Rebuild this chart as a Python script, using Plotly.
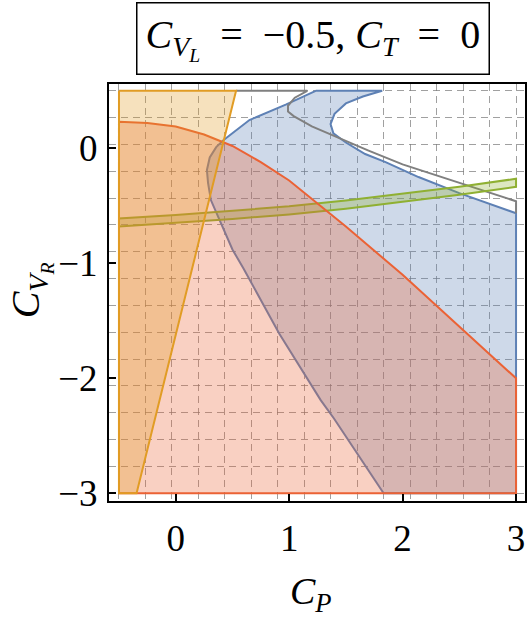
import plotly.graph_objects as go

# ---------------- data ----------------
x_tick_vals = [0, 1, 2, 3]
y_tick_vals = [-3, -2, -1, 0]
x_tick_text = ["0", "1", "2", "3"]
y_tick_text = ["\u22123", "\u22122", "\u22121", "0"]

# orange region: left of a straight boundary
orange_edge_x = [-0.345, 0.532]
orange_edge_y = [-3.0, 0.5]

# red region: below this boundary
red_curve_x = [-0.5, -0.25, 0.0, 0.25, 0.5, 0.75, 1.0, 1.25, 1.5, 2.0, 2.5, 3.0]
red_curve_y = [0.23, 0.22, 0.19, 0.12, 0.02, -0.12, -0.28, -0.48, -0.68, -1.1, -1.55, -2.0]

# blue region: left boundary (top -> bottom)
blue_left_x = [1.234, 0.97, 0.65, 0.42, 0.357, 0.30, 0.275, 0.285, 0.31, 0.41, 0.50, 0.60, 0.912, 1.278, 1.395, 1.833]
blue_left_y = [0.5, 0.38, 0.246, 0.07, 0.01, -0.08, -0.19, -0.30, -0.45, -0.68, -0.88, -1.05, -1.61, -2.19, -2.35, -3.0]
# blue region: inner (right) boundary (top -> right edge)
blue_inner_x = [1.82, 1.65, 1.50, 1.40, 1.365, 1.39, 1.50, 1.67, 1.85, 2.14, 2.5, 3.0]
blue_inner_y = [0.5, 0.45, 0.39, 0.30, 0.21, 0.13, 0.05, -0.05, -0.12, -0.25, -0.39, -0.565]

# gray boundary
gray_x = [0.532, 1.16, 1.05, 0.99, 0.99, 1.04, 1.2, 1.4, 1.7, 2.0, 2.5, 3.0, 3.0]
gray_y = [0.5, 0.5, 0.44, 0.37, 0.32, 0.28, 0.19, 0.105, -0.02, -0.14, -0.30, -0.46, -0.565]

# green band
green_x = [-0.5, 0.0, 0.5, 1.0, 1.5, 2.0, 2.5, 3.0]
green_lower = [-0.68, -0.65, -0.615, -0.575, -0.525, -0.465, -0.405, -0.335]
green_upper = [-0.61, -0.58, -0.545, -0.505, -0.455, -0.395, -0.335, -0.265]

X_MIN, X_MAX, Y_MIN, Y_MAX = -0.5, 3.0, -3.0, 0.5

BLUE = "rgb(94,129,181)"
ORANGE = "rgb(225,156,36)"
GREEN = "rgb(143,176,50)"
RED = "rgb(235,98,53)"
GRAY = "rgb(128,128,128)"

def fa(rgb, a=0.3):
    return rgb.replace("rgb", "rgba").replace(")", f",{a})")

fig = go.Figure()

# blue region
bx = blue_left_x + [X_MAX] + blue_inner_x[::-1] + [blue_left_x[0]]
by = blue_left_y + [Y_MIN] + blue_inner_y[::-1] + [blue_left_y[0]]
fig.add_trace(go.Scatter(x=bx, y=by, mode="lines", fill="toself",
                         fillcolor=fa(BLUE), line=dict(color=BLUE, width=2),
                         hoverinfo="skip", showlegend=False))
# gray boundary
fig.add_trace(go.Scatter(x=gray_x, y=gray_y, mode="lines",
                         line=dict(color=GRAY, width=2),
                         hoverinfo="skip", showlegend=False))
# green band
gx = green_x + green_x[::-1] + [green_x[0]]
gy = green_lower + green_upper[::-1] + [green_lower[0]]
fig.add_trace(go.Scatter(x=gx, y=gy, mode="lines", fill="toself",
                         fillcolor=fa(GREEN), line=dict(color=GREEN, width=2),
                         hoverinfo="skip", showlegend=False))
# red region
rx = red_curve_x + [X_MAX, X_MIN, red_curve_x[0]]
ry = red_curve_y + [Y_MIN, Y_MIN, red_curve_y[0]]
fig.add_trace(go.Scatter(x=rx, y=ry, mode="lines", fill="toself",
                         fillcolor=fa(RED), line=dict(color=RED, width=2),
                         hoverinfo="skip", showlegend=False))
# orange region
ox = [X_MIN, orange_edge_x[1], orange_edge_x[0], X_MIN, X_MIN]
oy = [Y_MAX, orange_edge_y[1], orange_edge_y[0], Y_MIN, Y_MAX]
fig.add_trace(go.Scatter(x=ox, y=oy, mode="lines", fill="toself",
                         fillcolor=fa(ORANGE), line=dict(color=ORANGE, width=2),
                         hoverinfo="skip", showlegend=False))

FONT = "Liberation Serif"
axis_common = dict(showline=True, mirror=True, linecolor="black", linewidth=2,
                   ticks="inside", ticklen=7, tickwidth=1.5, tickcolor="black",
                   showgrid=False, zeroline=False,
                   tickfont=dict(family=FONT, size=37, color="black"))

fig.update_xaxes(range=[-0.588, 3.079], tickvals=x_tick_vals, ticktext=x_tick_text,
                 ticklabelstandoff=4,
                 minor=dict(tick0=X_MIN, dtick=(X_MAX - X_MIN) / 15, showgrid=True,
                            gridcolor="rgba(120,120,120,0.7)", gridwidth=1,
                            griddash="7px,5px", ticks=""),
                 **axis_common)
fig.update_yaxes(range=[-3.067, 0.559], tickvals=y_tick_vals, ticktext=y_tick_text,
                 ticklabelstandoff=2,
                 minor=dict(tick0=Y_MIN, dtick=(Y_MAX - Y_MIN) / 15, showgrid=True,
                            gridcolor="rgba(120,120,120,0.7)", gridwidth=1,
                            griddash="7px,5px", ticks=""),
                 **axis_common)

SP = "\u2002"
fig.update_layout(
    width=530, height=617,
    margin=dict(l=109, r=3, t=84, b=116),
    paper_bgcolor="white", plot_bgcolor="white",
    font=dict(family=FONT, color="black"),
    annotations=[
        dict(text="<i>C</i><sub><i>P</i></sub>", xref="paper", yref="paper",
             x=0.486, y=-0.222, xanchor="center", yanchor="middle",
             showarrow=False, font=dict(size=38, family=FONT)),
        dict(text="<i>C</i><sub><i>V</i><sub><i>R</i></sub></sub>", xref="paper", yref="paper",
             x=-0.189, y=0.506, xanchor="center", yanchor="middle",
             textangle=-90, showarrow=False, font=dict(size=40, family=FONT)),
        dict(text=f"<i>C</i><sub><i>V</i><sub><i>L</i></sub></sub>{SP}={SP}\u22120.5, <i>C</i><sub><i>T</i></sub>{SP}={SP}0",
             xref="paper", yref="paper", x=0.49, y=1.11, xanchor="center", yanchor="middle",
             showarrow=False,
             font=dict(size=40, family=FONT), bordercolor="black", borderwidth=1.5,
             borderpad=8, bgcolor="white"),
    ],
)

fig.write_html("out.html")
